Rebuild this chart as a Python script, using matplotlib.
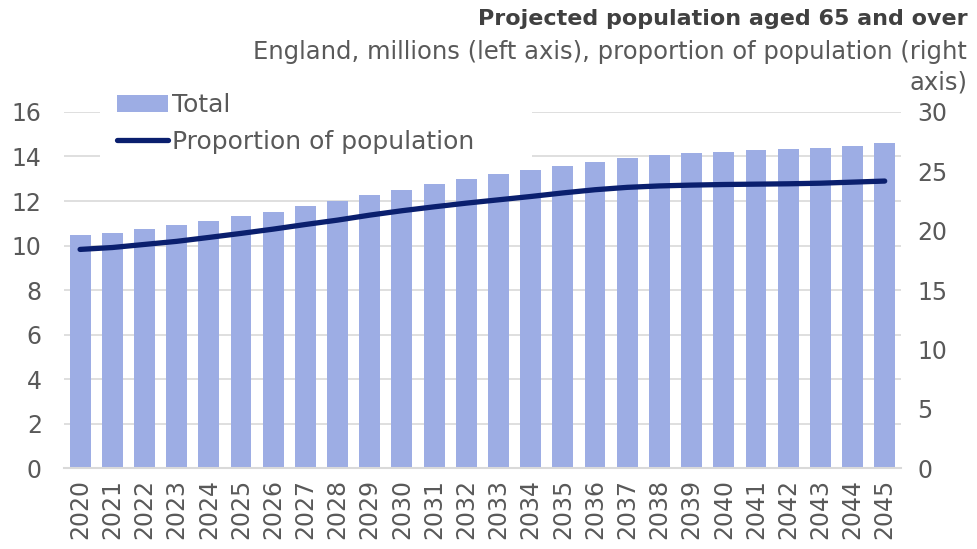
import matplotlib.pyplot as plt
import numpy as np
from matplotlib.patches import Rectangle

years = [str(y) for y in range(2020, 2046)]
total = [10.45, 10.57, 10.72, 10.91, 11.10, 11.31, 11.52, 11.78, 12.01, 12.27,
         12.51, 12.75, 12.99, 13.20, 13.39, 13.57, 13.75, 13.93, 14.05, 14.16,
         14.22, 14.29, 14.34, 14.38, 14.47, 14.61]
proportion = [18.42, 18.58, 18.84, 19.10, 19.43, 19.77, 20.13, 20.52, 20.89, 21.31,
              21.68, 22.01, 22.32, 22.60, 22.88, 23.18, 23.45, 23.65, 23.77, 23.84,
              23.89, 23.92, 23.95, 24.00, 24.09, 24.18]

text_col = '#595959'
bar_col = '#9DADE4'
line_col = '#0A1F6E'

plt.rcParams['font.family'] = ['DejaVu Sans']

fig = plt.figure(figsize=(9.77, 5.49), dpi=100)
ax = fig.add_axes([0.0655, 0.1475, 0.8565, 0.6485])
ax2 = ax.twinx()

x = np.arange(len(years))
ax.bar(x, total, width=0.65, color=bar_col, label='Total', zorder=2)
ax2.plot(x, proportion, color=line_col, linewidth=3.8, solid_capstyle='round',
         label='Proportion of population')

ax.set_xlim(-0.5, len(years) - 0.5)
ax.set_ylim(0, 16)
ax.set_yticks(range(0, 17, 2))
ax2.set_ylim(0, 30)
ax2.set_yticks(range(0, 31, 5))

ax.grid(axis='y', color='#D9D9D9', linewidth=1.2, zorder=0)
ax.set_axisbelow(True)

ax.set_xticks(x)
ax.set_xticklabels(years, rotation=90)
ax.tick_params(axis='x', length=0, pad=8, labelsize=17, labelcolor=text_col)
ax.tick_params(axis='y', length=0, pad=16, labelsize=17, labelcolor=text_col)
ax2.tick_params(axis='y', length=0, pad=12, labelsize=17, labelcolor=text_col)

for a in (ax, ax2):
    for s in ('top', 'left', 'right', 'bottom'):
        a.spines[s].set_visible(False)
ax.spines['bottom'].set_visible(True)
ax.spines['bottom'].set_color('#D9D9D9')
ax.spines['bottom'].set_linewidth(1.5)

# white legend area, as wide as the original chart's legend box
fig.add_artist(Rectangle((0.102, 0.699), 0.443, 0.146, transform=fig.transFigure,
                         facecolor='white', edgecolor='none', zorder=1))

h1, l1 = ax.get_legend_handles_labels()
h2, l2 = ax2.get_legend_handles_labels()
leg = fig.legend(h1 + h2, l1 + l2, loc='upper left', bbox_to_anchor=(0.12, 0.83),
                 frameon=False, fontsize=18, handlelength=2.05, handletextpad=0.15,
                 labelspacing=0.5, borderpad=0, borderaxespad=0)
for t in leg.get_texts():
    t.set_color(text_col)

fig.text(0.99, 0.965, 'Projected population aged 65 and over', ha='right', va='center',
         fontsize=16, fontweight='bold', color='#404040')
fig.text(0.99, 0.905, 'England, millions (left axis), proportion of population (right',
         ha='right', va='center', fontsize=17.5, color=text_col)
fig.text(0.99, 0.85, 'axis)', ha='right', va='center', fontsize=17.5, color=text_col)

fig.savefig('out.png', dpi=100)
